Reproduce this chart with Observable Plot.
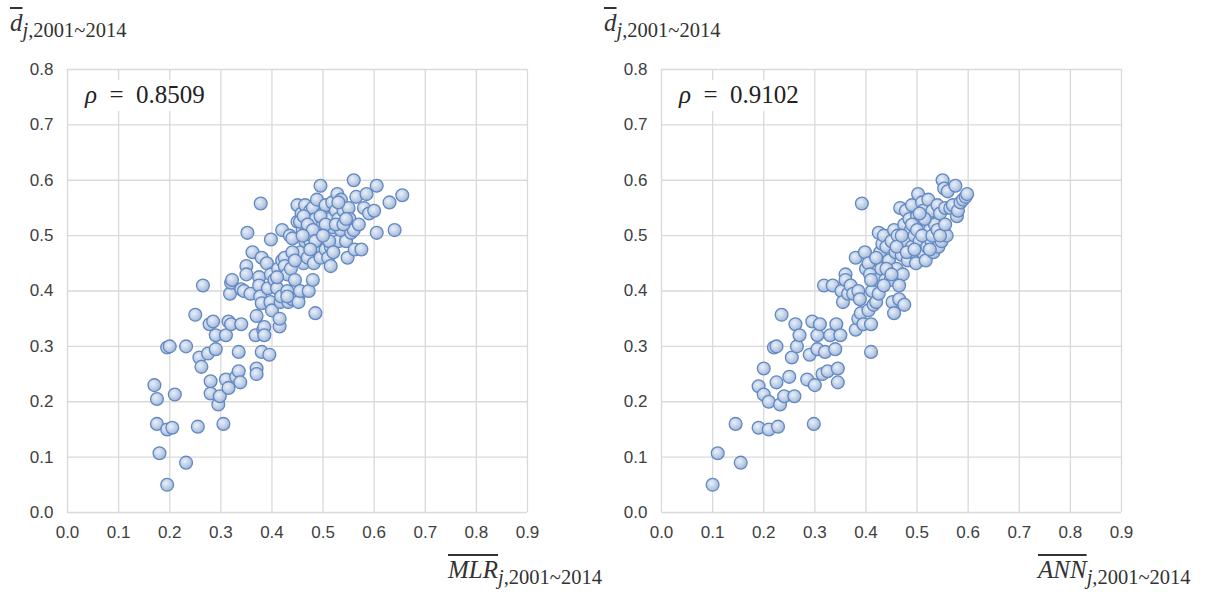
<!DOCTYPE html>
<html><head><meta charset="utf-8">
<script src="https://cdn.jsdelivr.net/npm/d3@7"></script>
<script src="https://cdn.jsdelivr.net/npm/@observablehq/plot@0.6"></script>
<style>
body{margin:0;background:#fff;width:1206px;height:592px;overflow:hidden;position:relative;font-family:"Liberation Sans",sans-serif}
.panel{position:absolute;top:0;height:592px}
.ylab,.xlab{position:absolute;font-family:"Liberation Serif",serif;color:#333;white-space:nowrap;line-height:1}
.ylab{top:10px}
.xlab{top:557px}
.main{font-size:25px;font-style:italic;text-decoration:overline;text-decoration-thickness:1.5px}
.sub{font-size:20.5px;position:relative;top:6px}
.rho{position:absolute;top:80px;background:#fff;font-family:"Liberation Serif",serif;font-size:25px;color:#222;padding:2px 6px 3px 6px;line-height:1.05;white-space:nowrap}
</style></head><body>
<div id="left" class="panel" style="left:0"></div>
<div id="right" class="panel" style="left:594px"></div>
<script>
const xTicks = [0,0.1,0.2,0.3,0.4,0.5,0.6,0.7,0.8,0.9];
const yTicks = [0,0.1,0.2,0.3,0.4,0.5,0.6,0.7,0.8];
const rhoLeft = "0.8509";
const rhoRight = "0.9102";
const xNameLeft = "MLR";
const xNameRight = "ANN";
const yName = "d";
const subText = ",2001~2014";

const mlrPoints = [
[0.17,0.23],[0.175,0.205],[0.175,0.16],[0.18,0.107],[0.195,0.298],[0.2,0.30],[0.195,0.15],[0.205,0.153],
[0.21,0.213],[0.195,0.05],[0.232,0.09],[0.232,0.30],[0.25,0.357],[0.255,0.155],[0.258,0.28],[0.265,0.41],
[0.262,0.263],[0.275,0.287],[0.278,0.34],[0.28,0.215],[0.28,0.237],[0.285,0.345],[0.29,0.32],[0.29,0.295],
[0.295,0.195],[0.298,0.21],[0.305,0.16],[0.31,0.24],[0.31,0.32],[0.315,0.345],[0.315,0.225],[0.32,0.34],
[0.318,0.395],[0.32,0.415],[0.322,0.42],[0.33,0.245],[0.335,0.255],[0.335,0.29],[0.338,0.235],[0.34,0.34],
[0.34,0.403],[0.345,0.40],[0.35,0.445],[0.35,0.43],[0.352,0.505],[0.358,0.395],[0.362,0.47],[0.368,0.32],
[0.37,0.26],[0.37,0.25],[0.37,0.355],[0.375,0.425],[0.375,0.41],[0.377,0.39],[0.378,0.558],[0.38,0.378],
[0.38,0.46],[0.38,0.29],[0.383,0.33],[0.385,0.335],[0.385,0.32],[0.39,0.45],[0.392,0.405],[0.395,0.285],
[0.397,0.38],[0.398,0.43],[0.398,0.493],[0.40,0.365],[0.405,0.42],[0.41,0.405],[0.412,0.44],[0.415,0.336],
[0.415,0.35],[0.417,0.38],[0.418,0.39],[0.42,0.455],[0.42,0.51],[0.425,0.46],[0.425,0.445],[0.43,0.43],
[0.43,0.40],[0.432,0.38],[0.435,0.50],[0.437,0.44],[0.44,0.495],[0.44,0.385],[0.445,0.42],[0.45,0.525],
[0.45,0.555],[0.452,0.39],[0.452,0.38],[0.455,0.40],[0.456,0.47],[0.458,0.54],[0.46,0.51],[0.462,0.45],
[0.465,0.555],[0.465,0.49],[0.468,0.51],[0.47,0.46],[0.47,0.53],[0.472,0.40],[0.475,0.49],[0.475,0.545],
[0.478,0.50],[0.48,0.42],[0.48,0.55],[0.482,0.45],[0.485,0.36],[0.485,0.53],[0.488,0.565],[0.49,0.505],
[0.49,0.48],[0.495,0.59],[0.495,0.46],[0.5,0.52],[0.5,0.54],[0.5,0.49],[0.505,0.475],[0.505,0.555],
[0.51,0.505],[0.51,0.46],[0.512,0.53],[0.515,0.48],[0.515,0.445],[0.518,0.56],[0.52,0.50],[0.52,0.515],
[0.525,0.545],[0.528,0.575],[0.53,0.53],[0.53,0.49],[0.535,0.565],[0.535,0.51],[0.54,0.545],[0.545,0.49],
[0.548,0.46],[0.55,0.55],[0.552,0.53],[0.555,0.505],[0.56,0.60],[0.56,0.51],[0.562,0.475],[0.565,0.57],
[0.57,0.52],[0.575,0.475],[0.58,0.55],[0.585,0.575],[0.59,0.54],[0.6,0.545],[0.605,0.59],[0.605,0.505],
[0.63,0.56],[0.64,0.51],[0.655,0.573],
[0.44,0.47],[0.455,0.525],[0.462,0.535],[0.47,0.52],[0.48,0.51],[0.485,0.49],[0.495,0.535],[0.505,0.52],
[0.512,0.49],[0.52,0.47],[0.525,0.52],[0.54,0.52],[0.545,0.53],[0.43,0.39],[0.445,0.455],[0.41,0.425],
[0.475,0.475],[0.46,0.5],[0.5,0.5],[0.53,0.56]
];

const annPoints = [
[0.1,0.05],[0.11,0.107],[0.145,0.16],[0.155,0.09],[0.19,0.153],[0.19,0.228],[0.2,0.26],[0.2,0.213],
[0.21,0.15],[0.21,0.2],[0.22,0.298],[0.225,0.30],[0.225,0.235],[0.228,0.155],[0.232,0.195],[0.235,0.357],
[0.24,0.21],[0.25,0.245],[0.255,0.28],[0.26,0.21],[0.262,0.34],[0.265,0.30],[0.27,0.32],[0.285,0.24],
[0.29,0.285],[0.295,0.345],[0.298,0.16],[0.3,0.23],[0.305,0.295],[0.305,0.32],[0.31,0.34],[0.315,0.25],
[0.318,0.41],[0.32,0.29],[0.325,0.255],[0.33,0.32],[0.335,0.41],[0.34,0.295],[0.342,0.34],[0.345,0.26],
[0.345,0.235],[0.35,0.32],[0.352,0.40],[0.355,0.38],[0.36,0.43],[0.36,0.42],[0.365,0.395],[0.37,0.41],
[0.375,0.395],[0.38,0.46],[0.38,0.33],[0.385,0.40],[0.385,0.35],[0.388,0.385],[0.39,0.36],[0.392,0.558],
[0.395,0.34],[0.398,0.47],[0.4,0.44],[0.405,0.45],[0.405,0.365],[0.408,0.43],[0.41,0.29],[0.41,0.34],
[0.412,0.40],[0.415,0.375],[0.42,0.38],[0.42,0.42],[0.425,0.395],[0.425,0.505],[0.428,0.47],[0.43,0.45],
[0.43,0.44],[0.432,0.485],[0.435,0.50],[0.438,0.42],[0.44,0.48],[0.445,0.455],[0.448,0.42],[0.45,0.49],
[0.452,0.38],[0.455,0.36],[0.455,0.51],[0.458,0.47],[0.46,0.44],[0.462,0.50],[0.465,0.385],[0.467,0.55],
[0.47,0.465],[0.472,0.43],[0.475,0.52],[0.475,0.375],[0.478,0.545],[0.48,0.49],[0.482,0.455],[0.485,0.53],
[0.488,0.51],[0.49,0.555],[0.49,0.48],[0.492,0.47],[0.495,0.50],[0.498,0.45],[0.5,0.535],[0.502,0.575],
[0.505,0.49],[0.507,0.52],[0.51,0.56],[0.51,0.47],[0.512,0.545],[0.515,0.50],[0.517,0.455],[0.52,0.53],
[0.52,0.48],[0.522,0.565],[0.525,0.51],[0.528,0.49],[0.53,0.545],[0.532,0.47],[0.535,0.52],[0.538,0.50],
[0.54,0.555],[0.542,0.48],[0.545,0.54],[0.548,0.49],[0.55,0.60],[0.552,0.51],[0.553,0.585],[0.555,0.55],
[0.558,0.50],[0.56,0.58],[0.565,0.55],[0.57,0.555],[0.575,0.59],[0.578,0.535],[0.58,0.545],[0.585,0.56],
[0.59,0.565],[0.595,0.57],[0.598,0.575],
[0.46,0.48],[0.47,0.5],[0.48,0.47],[0.49,0.52],[0.5,0.51],[0.51,0.5],[0.515,0.53],[0.525,0.475],
[0.53,0.5],[0.54,0.51],[0.545,0.5],[0.555,0.52],[0.44,0.44],[0.45,0.43],[0.435,0.41],[0.465,0.41],
[0.42,0.46],[0.41,0.42],[0.505,0.54],[0.495,0.475]
];

function makePanel(el, points, width, marginRight, gid, xName, rho, xlabLeft) {
  const chart = Plot.plot({
    width, height: 592,
    marginLeft: 67, marginRight, marginTop: 69, marginBottom: 80,
    style: {fontFamily: "'Liberation Sans', sans-serif", fontSize: "17px", color: "#404040", background: "transparent", overflow: "visible"},
    x: {domain: [0, 0.9], ticks: xTicks, tickFormat: d3.format(".1f"), tickSize: 0, tickPadding: 13, label: null},
    y: {domain: [0, 0.8], ticks: yTicks, tickFormat: d3.format(".1f"), tickSize: 0, tickPadding: 14, label: null},
    marks: [
      Plot.gridX(xTicks, {stroke: "#d9d9d9", strokeOpacity: 1, strokeWidth: 1.3}),
      Plot.gridY(yTicks, {stroke: "#d9d9d9", strokeOpacity: 1, strokeWidth: 1.3}),
      Plot.axisX(xTicks, {tickSize: 0, tickPadding: 13, tickFormat: d3.format(".1f"), fill: "#404040", fontSize: 17}),
      Plot.axisY(yTicks, {tickSize: 0, tickPadding: 14, tickFormat: d3.format(".1f"), fill: "#404040", fontSize: 17}),
      Plot.dot(points, {x: d => d[0], y: d => d[1], r: 6.4, fill: `url(#${gid})`, stroke: "#6288c0", strokeWidth: 1.3})
    ]
  });
  const svg = d3.select(chart);
  const g = svg.insert("defs", ":first-child").append("radialGradient")
    .attr("id", gid).attr("cx", "40%").attr("cy", "38%").attr("r", "62%");
  g.append("stop").attr("offset", "0%").attr("stop-color", "#eaf0f9");
  g.append("stop").attr("offset", "65%").attr("stop-color", "#bccde6");
  g.append("stop").attr("offset", "100%").attr("stop-color", "#9fb6d9");
  el.appendChild(chart);

  const yl = document.createElement("div");
  yl.className = "ylab"; yl.style.left = "10px";
  yl.innerHTML = `<span class="main">${yName}</span><span class="sub"><i>j</i>${subText}</span>`;
  el.appendChild(yl);

  const xl = document.createElement("div");
  xl.className = "xlab"; xl.style.left = xlabLeft + "px";
  xl.innerHTML = `<span class="main">${xName}</span><span class="sub"><i>j</i>${subText}</span>`;
  el.appendChild(xl);

  const r = document.createElement("div");
  r.className = "rho"; r.style.left = "79px";
  r.innerHTML = `<i>ρ</i>&ensp;=&ensp;${rho}`;
  el.appendChild(r);
}

makePanel(document.getElementById("left"), mlrPoints, 600, 73, "gL", xNameLeft, rhoLeft, 448);
makePanel(document.getElementById("right"), annPoints, 612, 85, "gR", xNameRight, rhoRight, 444);
</script>
</body></html>
